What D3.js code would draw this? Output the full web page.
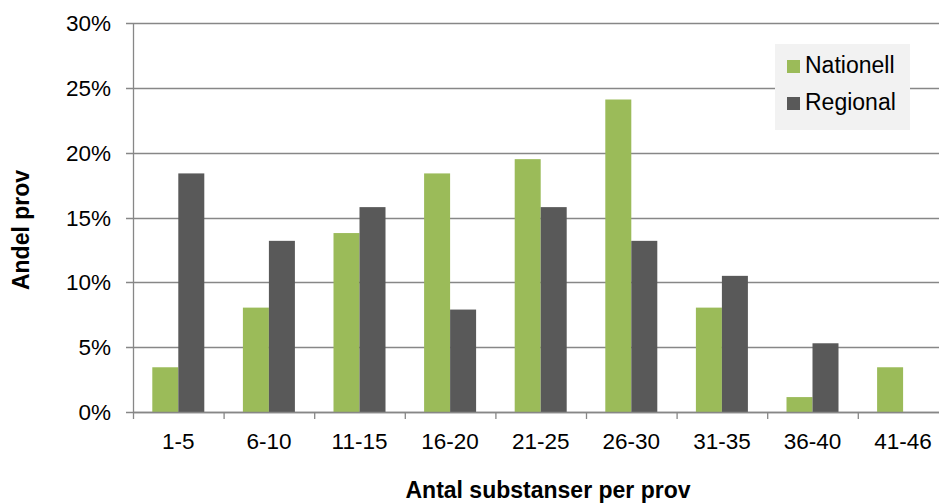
<!DOCTYPE html>
<html>
<head>
<meta charset="utf-8">
<script src="https://cdn.jsdelivr.net/npm/d3@7"></script>
<style>
    body { margin: 0; background: #fff; }
    svg text { font-family: "Liberation Sans", Arial, sans-serif; fill: #000; }
</style>
</head>
<body>
<div id="chart"></div>
<script>
// Chart data
const categories = ['1-5', '6-10', '11-15', '16-20', '21-25', '26-30', '31-35', '36-40', '41-46'];
const seriesNames = ['Nationell', 'Regional'];
const nationell = [3.45, 8.05, 13.8, 18.4, 19.5, 24.1, 8.05, 1.15, 3.45];
const regional = [18.4, 13.2, 15.8, 7.9, 15.8, 13.2, 10.5, 5.3, 0];
const yTicks = [0, 5, 10, 15, 20, 25, 30];
const colors = ['#9bbb59', '#595959'];

const width = 939, height = 504;
const margin = { top: 23, left: 133, bottom: 92 };
const plotRight = margin.left + 90.6 * categories.length;

const svg = d3.select('#chart').append('svg')
    .attr('width', width)
    .attr('height', height);

const x = d3.scaleBand()
    .domain(categories)
    .range([margin.left, plotRight])
    .paddingInner(0)
    .paddingOuter(0);

const y = d3.scaleLinear()
    .domain([0, 30])
    .range([height - margin.bottom, margin.top]);

const barW = 26;

// Gridlines
svg.append('g')
    .selectAll('line')
    .data(yTicks)
    .enter()
    .append('line')
    .attr('x1', margin.left - 7)
    .attr('x2', plotRight)
    .attr('y1', d => Math.round(y(d)) + 0.5)
    .attr('y2', d => Math.round(y(d)) + 0.5)
    .attr('stroke', '#878787')
    .attr('stroke-width', 1.3);

// Y tick labels
svg.append('g')
    .selectAll('text')
    .data(yTicks)
    .enter()
    .append('text')
    .attr('x', 111)
    .attr('y', d => y(d))
    .attr('dy', '0.36em')
    .attr('text-anchor', 'end')
    .attr('font-size', '22.5px')
    .text(d => d + '%');

// Bars
const series = [nationell, regional];
series.forEach((vals, si) => {
    svg.append('g')
        .selectAll('rect')
        .data(categories)
        .enter()
        .append('rect')
        .attr('x', c => x(c) + x.bandwidth() / 2 - barW + si * barW)
        .attr('y', (c, i) => y(vals[i]))
        .attr('width', barW)
        .attr('height', (c, i) => y(0) - y(vals[i]))
        .attr('fill', colors[si]);
});

// Axes lines
svg.append('line')
    .attr('x1', margin.left + 0.5).attr('x2', margin.left + 0.5)
    .attr('y1', y(30)).attr('y2', y(0))
    .attr('stroke', '#878787').attr('stroke-width', 1.3);

svg.append('line')
    .attr('x1', margin.left).attr('x2', plotRight)
    .attr('y1', Math.round(y(0)) + 0.5).attr('y2', Math.round(y(0)) + 0.5)
    .attr('stroke', '#878787').attr('stroke-width', 1.3);

// X category ticks
const tickXs = categories.map(c => x(c)).concat([plotRight]);
svg.append('g')
    .selectAll('line')
    .data(tickXs)
    .enter()
    .append('line')
    .attr('x1', d => d + 0.5).attr('x2', d => d + 0.5)
    .attr('y1', y(0)).attr('y2', y(0) + 7)
    .attr('stroke', '#878787').attr('stroke-width', 1.3);

// X labels
svg.append('g')
    .selectAll('text')
    .data(categories)
    .enter()
    .append('text')
    .attr('x', c => x(c) + x.bandwidth() / 2)
    .attr('y', 449)
    .attr('text-anchor', 'middle')
    .attr('font-size', '22.5px')
    .text(c => c);

// Axis titles
svg.append('text')
    .attr('x', 548)
    .attr('y', 498)
    .attr('text-anchor', 'middle')
    .attr('font-size', '23px')
    .attr('font-weight', 'bold')
    .text('Antal substanser per prov');

svg.append('text')
    .attr('transform', 'translate(29,230) rotate(-90)')
    .attr('text-anchor', 'middle')
    .attr('font-size', '23px')
    .attr('font-weight', 'bold')
    .text('Andel prov');

// Legend
const legend = svg.append('g').attr('transform', 'translate(775,44)');
legend.append('rect')
    .attr('width', 135)
    .attr('height', 86)
    .attr('fill', '#f2f2f2');

seriesNames.forEach((name, i) => {
    legend.append('rect')
        .attr('x', 12)
        .attr('y', 16 + i * 37)
        .attr('width', 13)
        .attr('height', 13)
        .attr('fill', colors[i]);
    legend.append('text')
        .attr('x', 30)
        .attr('y', 29 + i * 37)
        .attr('font-size', '23px')
        .text(name);
});
</script>
</body>
</html>
